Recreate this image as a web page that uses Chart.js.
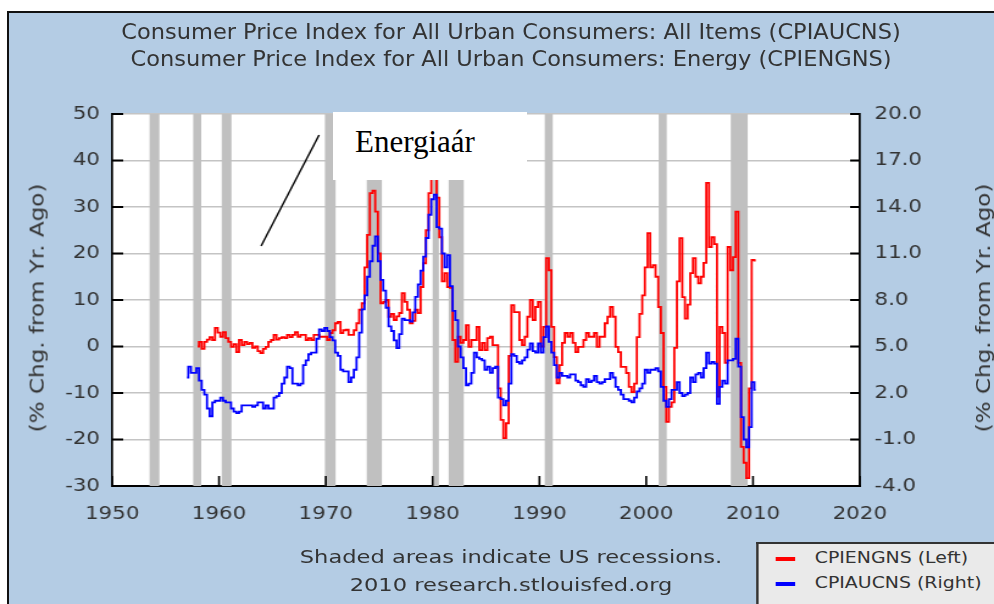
<!DOCTYPE html>
<html>
<head>
<meta charset="utf-8">
<script src="https://cdn.jsdelivr.net/npm/chart.js@4.4.1/dist/chart.umd.min.js"></script>
<style>
  html, body { margin: 0; padding: 0; }
  body { width: 994px; height: 604px; overflow: hidden; position: relative; background: #fff; }
  #frame { position: absolute; left: 7px; top: 11px; width: 1040px; height: 640px;
           background: #b4cce4; border-left: 2px solid #111; border-top: 2px solid #111; }
  /* the whole FRED graph is a horizontally stretched picture */
  #stretch { position: absolute; left: 0; top: 0; width: 815px; height: 604px;
             transform: scaleX(1.2196); transform-origin: 0 0; }
  #chart { position: absolute; left: 0; top: 0; }
  .title { position: absolute; left: 0; width: 838px; text-align: center; color: #333;
           font-family: "DejaVu Sans Condensed", "DejaVu Sans", sans-serif; font-size: 20.5px;
           line-height: 27px; white-space: nowrap; }
  .foot { position: absolute; left: 0; width: 838px; text-align: center; color: #333;
          font-family: "DejaVu Sans", sans-serif; font-size: 18.5px; line-height: 28px; white-space: nowrap; }
  .ytitle { position: absolute; top: 308px; color: #333; white-space: nowrap;
            font-family: "DejaVu Sans", sans-serif; font-size: 16px; line-height: 16px;
            transform: translate(-50%, -50%) rotate(-90deg) scaleX(1.44); }
  #legend { position: absolute; left: 620px; top: 542px; width: 300px; height: 100px;
            background: #eaeaea; border-left: 2px solid #333; border-top: 2px solid #333; }
  .item { position: absolute; left: 14px; height: 20px; font-family: "DejaVu Sans", sans-serif;
          font-size: 15.5px; color: #333; white-space: nowrap; line-height: 20px; }
  .swatch { display: inline-block; width: 16px; height: 4px; vertical-align: middle; margin-right: 16px; }
  #note { position: absolute; left: 333px; top: 112px; width: 194px; height: 68px; background: #fff; }
  #note span { position: absolute; left: 22px; top: 14px; font-family: "Liberation Serif", "Times New Roman", serif;
               font-size: 31px; line-height: 31px; color: #000; }
</style>
</head>
<body>
<div id="frame"></div>
<div id="stretch">
  <canvas id="chart" width="815" height="604"></canvas>
  <div class="title" style="top:19px">Consumer Price Index for All Urban Consumers: All Items (CPIAUCNS)</div>
  <div class="title" style="top:46px">Consumer Price Index for All Urban Consumers: Energy (CPIENGNS)</div>
  <div class="ytitle" style="left:31px">(% Chg. from Yr. Ago)</div>
  <div class="ytitle" style="left:807px">(% Chg. from Yr. Ago)</div>
  <div class="foot" style="top:543px">Shaded areas indicate US recessions.</div>
  <div class="foot" style="top:571px">2010 research.stlouisfed.org</div>
  <div id="legend">
    <div class="item" style="top:4px"><span class="swatch" style="background:#ff0000"></span>CPIENGNS (Left)</div>
    <div class="item" style="top:29px"><span class="swatch" style="background:#0000ff"></span>CPIAUCNS (Right)</div>
  </div>
</div>
<div id="note"><span>Energiaár</span></div>
<script>
// quarterly observations (Jan, Apr, Jul, Oct), % change from a year ago
const energyStart = 1958;
const energyYoY = [
  0.0, 1.0, -0.5, 1.0,      // 1958
  1.5, 2.0, 1.4, 4.0,
  3.0, 2.1, 3.1, 1.8,       // 1960
  1.0, -0.1, 0.5, -1.2,
  1.4, 0.3, 1.0, 0.5,
  0.8, -0.3, 0.0, -1.0,
  -1.4, -0.5, -0.1, 1.0,
  1.4, 2.5, 1.5, 1.8,       // 1965
  2.0, 1.8, 2.5, 2.0,
  2.5, 3.1, 2.1, 2.5,
  2.5, 1.4, 1.8, 1.4,
  2.5, 2.5, 2.1, 2.1,
  2.1, 1.4, 2.9, 3.5,       // 1970
  5.0, 5.3, 2.9, 3.5,
  3.6, 2.5, 2.5, 3.5,
  5.0, 7.9, 9.3, 17.0,
  24.0, 33.0, 33.5, 29.0,
  20.0, 9.3, 9.6, 10.0,     // 1975
  6.4, 7.0, 5.7, 6.5,
  7.2, 11.5, 9.6, 7.9,
  5.0, 5.5, 7.9, 7.2,
  12.8, 17.9, 25.0, 33.0,
  45.0, 42.0, 32.0, 23.5,   // 1980
  14.0, 15.8, 12.8, 12.6,
  1.4, -3.3, 2.1, 0.8,
  1.4, 4.6, -0.1, 1.4,
  1.4, 4.2, -0.8, 0.8,
  -0.8, 1.8, 2.1, 0.3,      // 1985
  0.3, -9.0, -15.8, -19.7,
  -16.5, -2.0, 8.9, 7.4,
  7.4, 1.4, 0.3, 2.1,
  6.4, 10.0, 5.7, 8.5,
  9.6, 0.0, 4.2, 19.0,      // 1990
  16.4, 4.2, -2.3, -7.9,
  -4.0, 0.8, 2.9, 2.1,
  2.9, 0.8, -1.2, -0.1,
  -0.1, 1.4, 2.9, 2.1,
  2.1, 2.9, -0.1, 2.1,      // 1995
  2.1, 5.0, 6.4, 8.5,
  6.4, -0.1, -1.2, -4.4,
  -4.4, -5.7, -8.7, -9.8,
  -8.0, 2.0, 7.0, 11.0,
  17.0, 24.4, 17.0, 17.5,   // 2000
  15.0, 8.5, 2.9, -8.7,
  -16.2, -13.0, -12.0, -0.3,
  14.0, 23.3, 10.6, 6.0,
  9.0, 15.8, 19.0, 15.0,
  13.6, 15.0, 18.0, 35.2,   // 2005
  21.4, 23.5, 22.0, -10.8,
  4.2, 2.9, -3.5, 21.4,
  16.4, 19.2, 29.0, -3.5,
  -21.6, -25.0, -28.3, -9.0,
  18.6, 18.5                // 2010
];

const cpiStart = 1957;
const cpiYoY = [
  3.0, 3.7, 3.3, 3.3,       // 1957
  3.6, 2.8, 2.2, 1.9,
  1.0, 0.5, 1.4, 1.5,
  1.5, 1.7, 1.5, 1.4,       // 1960
  1.4, 1.0, 0.8, 0.7,
  0.8, 1.2, 1.2, 1.2,
  1.2, 1.1, 1.2, 1.4,
  1.4, 1.0, 1.2, 1.0,
  1.0, 1.7, 1.8, 2.0,       // 1965
  2.6, 3.0, 3.7, 3.6,
  2.6, 2.6, 2.5, 2.6,
  3.8, 4.1, 4.5, 4.6,
  4.6, 5.5, 6.1, 6.0,
  6.2, 6.0, 5.6, 5.4,       // 1970
  4.6, 4.4, 3.5, 3.4,
  3.4, 2.7, 3.0, 3.5,
  4.3, 5.9, 7.4, 8.3,
  9.5, 10.5, 11.5, 12.1,
  10.5, 9.3, 8.6, 7.5,      // 1975
  6.3, 6.0, 5.4, 4.9,
  5.8, 6.8, 6.7, 6.7,
  6.6, 7.2, 8.2, 9.0,
  9.9, 10.8, 12.0, 13.5,
  14.5, 14.8, 12.7, 12.6,   // 1980
  11.0, 10.1, 10.9, 8.9,
  7.3, 6.7, 5.0, 4.3,
  3.6, 2.5, 2.6, 3.3,
  4.6, 4.3, 4.2, 4.1,
  3.5, 3.7, 3.3, 3.6,       // 1985
  3.7, 1.7, 1.6, 1.2,
  1.5, 2.6, 4.5, 4.4,
  4.0, 3.9, 4.1, 4.3,
  4.8, 5.2, 4.7, 4.6,
  5.2, 4.6, 5.6, 6.3,       // 1990
  5.3, 4.6, 3.8, 3.0,
  3.3, 3.1, 3.1, 3.0,
  3.2, 3.2, 2.8, 2.7,
  2.5, 2.4, 2.9, 2.7,
  2.8, 3.1, 2.7, 2.6,       // 1995
  2.7, 2.9, 2.9, 3.3,
  3.0, 2.4, 2.2, 1.9,
  1.6, 1.6, 1.5, 1.4,
  1.7, 2.1, 2.3, 2.6,
  3.5, 3.3, 3.5, 3.5,       // 2000
  3.6, 3.4, 2.4, 1.5,
  1.1, 1.6, 2.2, 2.2,
  2.7, 2.0, 1.8, 1.9,
  2.0, 3.0, 2.7, 3.2,
  3.3, 3.0, 3.6, 4.6,       // 2005
  3.9, 4.0, 3.9, 1.3,
  2.4, 2.8, 2.6, 4.1,
  4.1, 4.2, 5.5, 3.7,
  0.45, -1.0, -1.5, -0.2,
  2.7, 2.2                  // 2010
];

// NBER recessions, peak month to trough month
const recessionPeaks   = ['1953-07', '1957-08', '1960-04', '1969-12', '1973-11', '1980-01', '1981-07', '1990-07', '2001-03', '2007-12'];
const recessionTroughs = ['1954-05', '1958-04', '1961-02', '1970-11', '1975-03', '1980-07', '1982-11', '1991-03', '2001-11', '2009-06'];

// pointer line of the "Energiaár" note, in data units (year, left axis %)
const noteLineFrom = [1963.94, 21.6];
const noteLineTo = [1969.37, 45.5];

function monthToYear(s) {
  const [y, m] = s.split('-').map(Number);
  return y + (m - 1) / 12;
}

function toPoints(start, values) {
  return values.map((v, i) => ({ x: start + i / 4, y: v }));
}

const plotBackground = {
  id: 'plotBackground',
  beforeDraw(chart) {
    const { ctx, chartArea: a } = chart;
    ctx.save();
    ctx.fillStyle = '#fff';
    ctx.fillRect(a.left, a.top, a.right - a.left, a.bottom - a.top);
    ctx.restore();
  }
};

const recessionShading = {
  id: 'recessionShading',
  beforeDatasetsDraw(chart) {
    const { ctx, chartArea: a, scales: { x } } = chart;
    ctx.save();
    ctx.fillStyle = '#c0c0c0';
    recessionPeaks.forEach((p, i) => {
      const x0 = x.getPixelForValue(monthToYear(p));
      const x1 = x.getPixelForValue(monthToYear(recessionTroughs[i]) + 1 / 12);
      ctx.fillRect(x0, a.top, x1 - x0, a.bottom - a.top);
    });
    ctx.restore();
  }
};

const innerTicks = {
  id: 'innerTicks',
  afterDraw(chart) {
    const { ctx, chartArea: a, scales } = chart;
    ctx.save();
    ctx.strokeStyle = '#000';
    ctx.lineWidth = 2;
    ctx.beginPath();
    scales.y.ticks.forEach(t => {
      const py = scales.y.getPixelForValue(t.value);
      ctx.moveTo(a.left, py);
      ctx.lineTo(a.left + 9, py);
    });
    scales.y1.ticks.forEach(t => {
      const py = scales.y1.getPixelForValue(t.value);
      ctx.moveTo(a.right - 8, py);
      ctx.lineTo(a.right, py);
    });
    ctx.stroke();
    ctx.lineWidth = 1.6;
    ctx.beginPath();
    scales.x.ticks.forEach(t => {
      const px = scales.x.getPixelForValue(t.value);
      ctx.moveTo(px, a.bottom);
      ctx.lineTo(px, a.bottom - 10);
    });
    ctx.stroke();
    ctx.restore();
  }
};

const noteLine = {
  id: 'noteLine',
  afterDraw(chart) {
    const { ctx, scales: { x, y } } = chart;
    ctx.save();
    ctx.strokeStyle = '#000';
    ctx.lineWidth = 1.4;
    ctx.beginPath();
    ctx.moveTo(x.getPixelForValue(noteLineFrom[0]), y.getPixelForValue(noteLineFrom[1]));
    ctx.lineTo(x.getPixelForValue(noteLineTo[0]), y.getPixelForValue(noteLineTo[1]));
    ctx.stroke();
    ctx.restore();
  }
};

const tickFont = { family: 'DejaVu Sans', size: 17.5 };

new Chart(document.getElementById('chart').getContext('2d'), {
  type: 'line',
  data: {
    datasets: [
      {
        label: 'CPIAUCNS (Right)',
        data: toPoints(cpiStart, cpiYoY),
        yAxisID: 'y1',
        borderColor: '#0000ff',
        borderWidth: 1.8,
        pointRadius: 0,
        stepped: 'middle'
      },
      {
        label: 'CPIENGNS (Left)',
        data: toPoints(energyStart, energyYoY),
        yAxisID: 'y',
        borderColor: '#ff0000',
        borderWidth: 1.8,
        pointRadius: 0,
        stepped: 'middle'
      }
    ]
  },
  options: {
    responsive: false,
    animation: false,
    layout: { padding: { top: 114 } },
    plugins: {
      legend: { display: false },
      tooltip: { enabled: false }
    },
    scales: {
      x: {
        type: 'linear',
        min: 1950,
        max: 2020,
        ticks: { stepSize: 10, padding: 18, color: '#333', font: tickFont, callback: v => String(v) },
        grid: { display: false, drawTicks: false },
        border: { color: '#000', width: 2 },
        afterFit: s => { s.height = 118; }
      },
      y: {
        position: 'left',
        min: -30,
        max: 50,
        ticks: { stepSize: 10, padding: 10, color: '#333', font: tickFont },
        grid: { color: '#c4c4c4', lineWidth: 1.5, drawTicks: false },
        border: { color: '#000', width: 1.7 },
        afterFit: s => { s.width = 92; }
      },
      y1: {
        position: 'right',
        min: -4,
        max: 20,
        ticks: { stepSize: 3, padding: 12, color: '#333', font: tickFont, callback: v => v.toFixed(1) },
        grid: { display: false, drawTicks: false },
        border: { color: '#000', width: 1.7 },
        afterFit: s => { s.width = 110; }
      }
    }
  },
  plugins: [plotBackground, recessionShading, innerTicks, noteLine]
});
</script>
</body>
</html>
